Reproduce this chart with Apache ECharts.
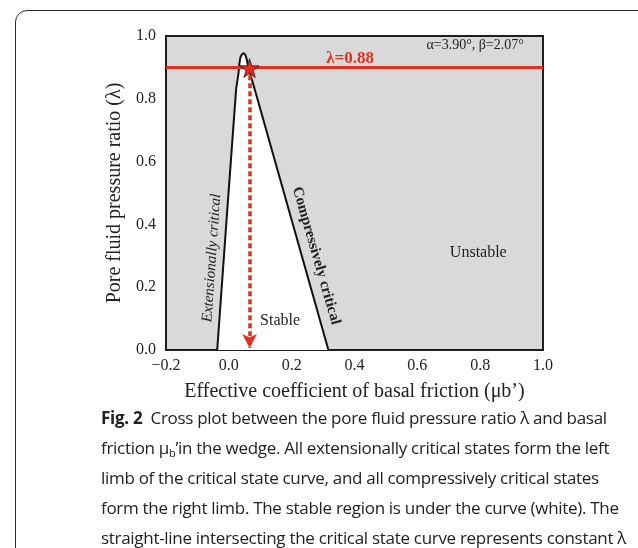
<!DOCTYPE html>
<html>
<head>
<meta charset="utf-8">
<script src="https://cdn.jsdelivr.net/npm/echarts@6/dist/echarts.min.js"></script>
<style>
  html, body { margin: 0; padding: 0; background: #fff; }
  #wrap { position: relative; width: 638px; height: 548px; overflow: hidden; }
  #frame { position: absolute; left: 15px; top: 10px; width: 640px; height: 600px;
           border: 1.5px solid #2a2a2a; border-radius: 12px; }
  #chart { position: absolute; left: 0; top: 0; width: 638px; height: 548px; }
  #caption { position: absolute; left: 101px; top: 403px; width: 540px;
             font-family: "Open Sans", "Noto Sans", sans-serif; font-size: 17px;
             line-height: 30px; color: #222; white-space: nowrap; letter-spacing: -0.3px; }
  #caption b { font-weight: 700; }
  #caption sub { font-size: 11px; vertical-align: -3px; line-height: 0; }
</style>
</head>
<body>
<div id="wrap">
  <div id="frame"></div>
  <div id="chart"></div>
  <div id="caption">
    <b>Fig. 2</b>&nbsp; Cross plot between the pore fluid pressure ratio λ and basal<br>
    friction μ<sub>b</sub>’in the wedge. All extensionally critical states form the left<br>
    limb of the critical state curve, and all compressively critical states<br>
    form the right limb. The stable region is under the curve (white). The<br>
    straight-line intersecting the critical state curve represents constant λ
  </div>
</div>
<script>
// critical state curve (μb', λ): left limb -> peak -> right limb
const curveMu     = [-0.037, 0.023, 0.030, 0.034, 0.038, 0.046, 0.052, 0.057, 0.062, 0.083, 0.317];
const curveLambda = [0.000, 0.828, 0.876, 0.915, 0.935, 0.945, 0.940, 0.925, 0.900, 0.828, 0.000];

// constant λ line and the state it picks out
const lambdaLevel = 0.9;
const lambdaText = 'λ=0.88';
const starPoint = [0.066, 0.898];
const arrowFrom = [0.066, 0.875];
const arrowTo = [0.066, 0.006];

const xTicks = [-0.2, 0, 0.2, 0.4, 0.6, 0.8, 1.0];
const yTicks = [0, 0.2, 0.4, 0.6, 0.8, 1.0];

// annotations: [μb', λ, text]
const notes = [
  [0.386, 0.928, lambdaText],
  [0.784, 0.971, 'α=3.90°, β=2.07°'],
  [0.794, 0.309, 'Unstable'],
  [0.163, 0.093, 'Stable'],
  [-0.054, 0.293, 'Extensionally critical'],
  [0.278, 0.300, 'Compressively critical'],
];

const SERIF = '"Liberation Serif", "Times New Roman", serif';
const noteStyle = [
  { color: '#e0301e', fontSize: 17, fontWeight: 'bold' },
  { color: '#222', fontSize: 14 },
  { color: '#222', fontSize: 16 },
  { color: '#222', fontSize: 16 },
  { color: '#222', fontSize: 15, fontStyle: 'italic', rotate: 86 },
  { color: '#222', fontSize: 15, fontWeight: 'bold', rotate: -74 },
];

const fmt = v => (v < 0 ? '\u2212' + Math.abs(v).toFixed(1) : v.toFixed(1));
const STAR = 'path://M50,0 L61,35 L98,35 L68,57 L79,91 L50,70 L21,91 L32,57 L2,35 L39,35 Z';

const chart = echarts.init(document.getElementById('chart'), null, { renderer: 'canvas' });
chart.setOption({
  animation: false,
  backgroundColor: 'transparent',
  textStyle: { fontFamily: SERIF },
  grid: { left: 166, right: 95, top: 36, bottom: 198, show: true,
          backgroundColor: '#d9d9d9', borderColor: '#1e1e1e', borderWidth: 2 },
  xAxis: {
    type: 'value', min: xTicks[0], max: xTicks[xTicks.length - 1], interval: 0.2,
    name: 'Effective coefficient of basal friction (μb’)', nameLocation: 'middle', nameGap: 32,
    nameTextStyle: { fontFamily: SERIF, fontSize: 20, color: '#222' },
    axisLine: { onZero: false, lineStyle: { color: '#1e1e1e', width: 2 } },
    axisTick: { show: false },
    axisLabel: { fontFamily: SERIF, fontSize: 16, color: '#222', margin: 8, formatter: fmt },
    splitLine: { show: false },
  },
  yAxis: {
    type: 'value', min: yTicks[0], max: yTicks[yTicks.length - 1], interval: 0.2,
    name: 'Pore fluid pressure ratio (λ)', nameLocation: 'middle', nameGap: 40,
    nameTextStyle: { fontFamily: SERIF, fontSize: 20, color: '#222' },
    axisLine: { onZero: false, lineStyle: { color: '#1e1e1e', width: 2 } },
    axisTick: { show: false },
    axisLabel: { fontFamily: SERIF, fontSize: 16, color: '#222', margin: 10, formatter: fmt },
    splitLine: { show: false },
  },
  series: [
    {
      type: 'line', z: 2, symbol: 'none', smooth: 0.2,
      data: curveMu.map((m, i) => [m, curveLambda[i]]),
      lineStyle: { color: '#111', width: 2 },
      areaStyle: { color: '#ffffff', opacity: 1, origin: 'start' },
    },
    {
      type: 'line', z: 3, symbol: 'none',
      data: [[xTicks[0], lambdaLevel], [xTicks[xTicks.length - 1], lambdaLevel]],
      lineStyle: { color: '#e0301e', width: 3 },
      markLine: {
        silent: true, symbol: ['none', 'arrow'], symbolSize: [11, 14], label: { show: false },
        lineStyle: { color: '#e0301e', width: 3.5, type: [5, 3] },
        data: [[{ coord: arrowFrom }, { coord: arrowTo }]],
      },
    },
    {
      type: 'scatter', z: 5, symbol: STAR, symbolSize: 19,
      data: [starPoint],
      itemStyle: { color: '#e8281c', borderColor: '#222', borderWidth: 0.8, opacity: 1 },
    },
    {
      type: 'scatter', z: 6, symbolSize: 0, silent: true,
      itemStyle: { opacity: 1 },
      data: notes.map((n, i) => ({
        value: [n[0], n[1]],
        label: Object.assign({ show: true, position: 'inside', formatter: n[2], opacity: 1,
                               fontFamily: SERIF, align: 'center', verticalAlign: 'middle' }, noteStyle[i]),
      })),
    },
  ],
});
</script>
</body>
</html>
